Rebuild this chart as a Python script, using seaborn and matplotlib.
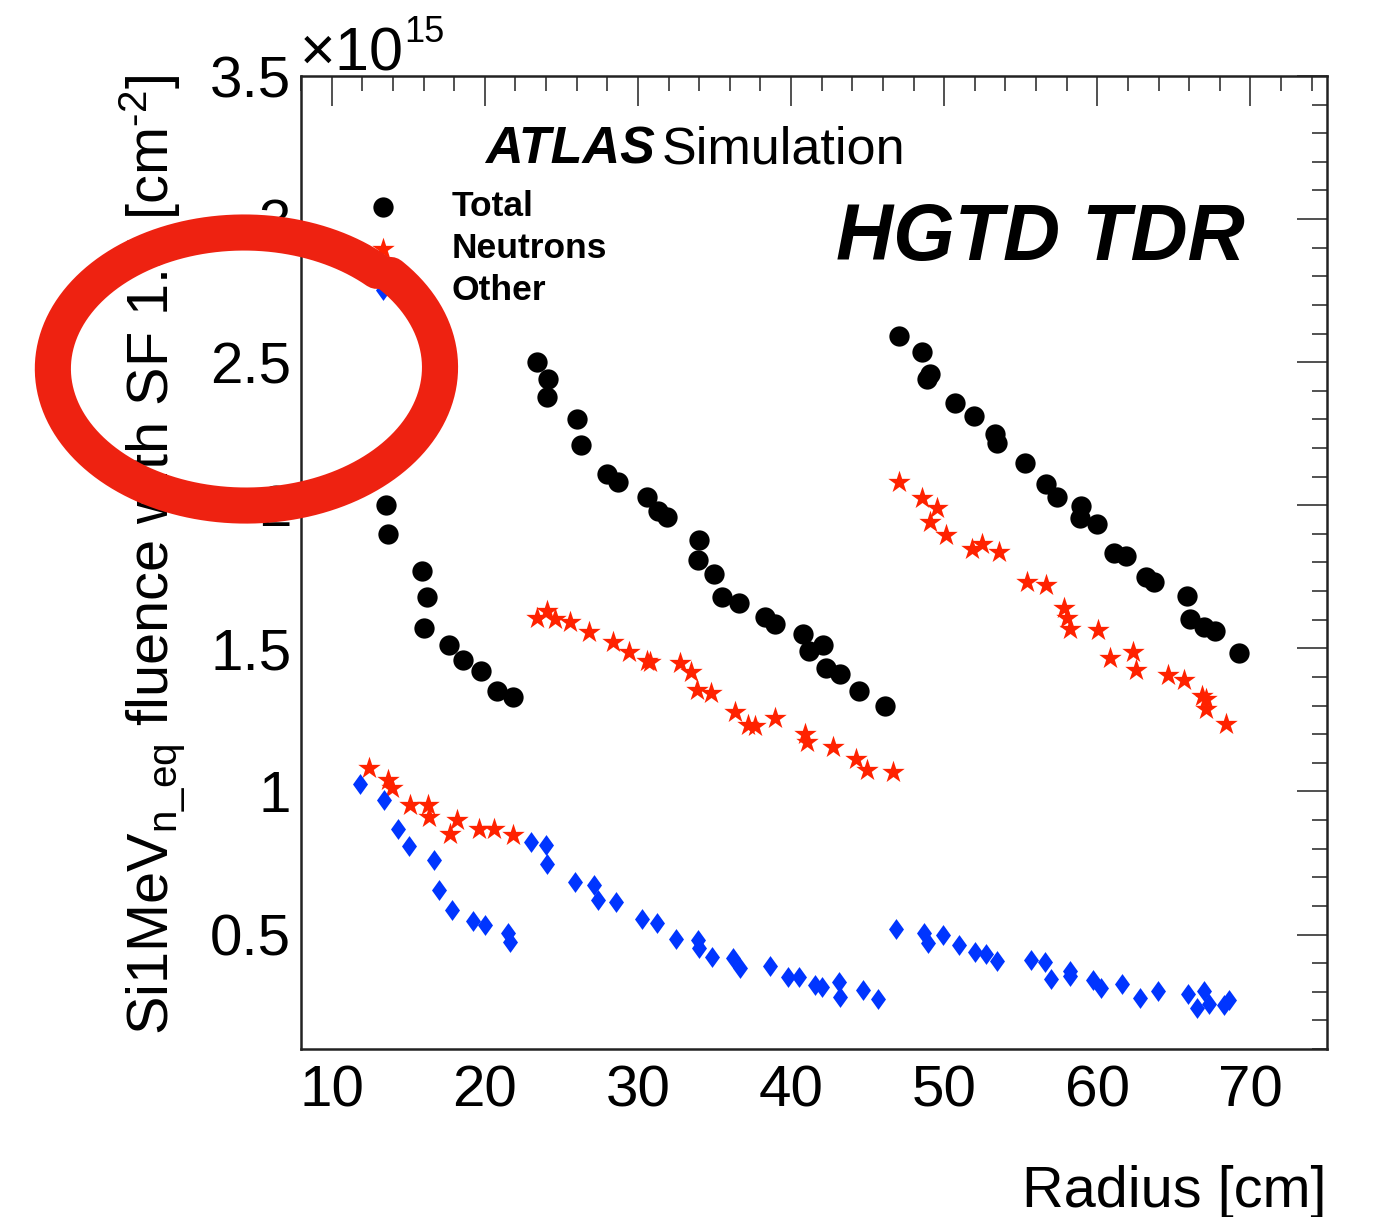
import numpy as np
import pandas as pd
import matplotlib
matplotlib.use("Agg")
import matplotlib.pyplot as plt
import seaborn as sns
from matplotlib.lines import Line2D
from matplotlib.ticker import MultipleLocator, FuncFormatter
from matplotlib.font_manager import FontProperties

# ---- fluence vs radius (units of 1e15 cm^-2) ----
total_radius = [12.1, 13.52, 13.70, 15.93, 16.20, 16.00, 17.65, 18.56, 19.74, 20.78, 21.83,
                23.42, 24.11, 24.07, 26.02, 26.30, 27.98, 28.67, 30.59, 31.30, 31.93, 33.96,
                33.92, 35.00, 35.48, 36.63, 38.31, 38.96, 40.80, 41.19, 42.07, 42.28, 43.20,
                44.45, 46.13,
                47.04, 48.56, 49.07, 48.89, 50.70, 51.96, 53.31, 53.48, 55.26, 56.63, 57.39,
                58.91, 58.85, 60.00, 61.09, 61.85, 63.15, 63.70, 65.87, 66.03, 67.00, 67.70,
                69.28]
total_fluence = [2.12, 2.00, 1.90, 1.77, 1.68, 1.57, 1.51, 1.46, 1.42, 1.35, 1.33,
                 2.50, 2.44, 2.38, 2.30, 2.21, 2.11, 2.08, 2.03, 1.98, 1.96, 1.88,
                 1.81, 1.76, 1.68, 1.66, 1.61, 1.585, 1.55, 1.49, 1.51, 1.43, 1.41,
                 1.35, 1.30,
                 2.59, 2.535, 2.457, 2.44, 2.356, 2.312, 2.25, 2.216, 2.147, 2.076, 2.03,
                 1.998, 1.957, 1.934, 1.833, 1.821, 1.748, 1.733, 1.684, 1.603, 1.576, 1.56,
                 1.483]

neutron_radius = [12.47, 13.67, 13.97, 15.09, 16.29, 16.34, 17.71, 18.21, 19.61, 20.63, 21.86,
                  23.42, 24.07, 24.61, 25.54, 26.78, 28.35, 29.39, 30.59, 30.80, 32.76, 33.46,
                  33.85, 34.76, 36.35, 37.22, 37.65, 38.96, 40.91, 41.02, 42.72, 44.24, 44.94,
                  46.63,
                  47.04, 48.52, 49.54, 49.07, 50.11, 51.85, 52.48, 53.59, 55.41, 56.63, 57.83,
                  58.02, 58.20, 60.04, 60.85, 62.33, 62.55, 64.61, 65.65, 66.85, 67.07, 67.07,
                  68.41]
neutron_fluence = [1.082, 1.039, 1.012, 0.954, 0.951, 0.911, 0.853, 0.899, 0.870, 0.870, 0.849,
                   1.605, 1.632, 1.603, 1.593, 1.556, 1.521, 1.489, 1.457, 1.454, 1.448, 1.417,
                   1.356, 1.344, 1.277, 1.233, 1.228, 1.256, 1.201, 1.172, 1.155, 1.112, 1.074,
                   1.068,
                   2.082, 2.025, 1.989, 1.942, 1.896, 1.847, 1.864, 1.835, 1.733, 1.721, 1.640,
                   1.605, 1.568, 1.565, 1.467, 1.486, 1.426, 1.407, 1.391, 1.333, 1.324, 1.289,
                   1.236]

other_radius = [11.85, 13.39, 14.34, 15.04, 16.67, 16.99, 17.84, 19.21, 20.01, 21.50, 21.68,
                23.03, 24.03, 24.08, 25.90, 27.12, 27.37, 28.57, 30.24, 31.22, 32.49, 33.94,
                33.99, 34.81, 36.18, 36.68, 38.63, 39.80, 40.55, 41.55, 42.05, 43.12, 43.17,
                44.67, 45.71,
                46.85, 48.69, 48.96, 49.93, 50.96, 52.00, 52.76, 53.48, 55.70, 56.57, 56.96,
                58.20, 58.20, 59.72, 60.26, 61.63, 62.76, 63.96, 65.92, 66.52, 66.96, 67.28,
                68.30, 68.63]
other_fluence = [1.027, 0.969, 0.868, 0.810, 0.760, 0.655, 0.585, 0.547, 0.535, 0.507, 0.473,
                 0.824, 0.812, 0.748, 0.684, 0.672, 0.620, 0.612, 0.554, 0.542, 0.483, 0.481,
                 0.454, 0.423, 0.417, 0.382, 0.391, 0.353, 0.351, 0.324, 0.315, 0.335, 0.283,
                 0.306, 0.275,
                 0.519, 0.504, 0.469, 0.500, 0.463, 0.440, 0.431, 0.407, 0.411, 0.405, 0.345,
                 0.373, 0.356, 0.341, 0.312, 0.326, 0.277, 0.301, 0.291, 0.242, 0.301, 0.256,
                 0.254, 0.271]

series_labels = ["Total", "Neutrons", "Other"]
x_ticks = [10, 20, 30, 40, 50, 60, 70]

W, H = 1378, 1217
FONT = "Liberation Sans"

sns.set_theme(style="white")
plt.rcParams["font.family"] = [FONT, "DejaVu Sans"]
plt.rcParams["text.color"] = "black"
plt.rcParams["axes.labelcolor"] = "black"
plt.rcParams["xtick.color"] = "black"
plt.rcParams["ytick.color"] = "black"
plt.rcParams["mathtext.fontset"] = "custom"
plt.rcParams["mathtext.rm"] = FONT
plt.rcParams["mathtext.it"] = FONT + ":italic"
plt.rcParams["mathtext.bf"] = FONT + ":bold"

fig = plt.figure(figsize=(W / 100, H / 100), dpi=100)
fig.patch.set_facecolor("white")


def fx(px):
    return px / W


def fy(py):
    return 1 - py / H


ax = fig.add_axes([fx(301), fy(1049), fx(1327) - fx(301), fy(76) - fy(1049)])
ax.set_facecolor("white")

df_total = pd.DataFrame({"radius": total_radius, "fluence": total_fluence})
df_neut = pd.DataFrame({"radius": neutron_radius, "fluence": neutron_fluence})
df_other = pd.DataFrame({"radius": other_radius, "fluence": other_fluence})

diamond = [(0, 1), (0.72, 0), (0, -1), (-0.72, 0)]

sns.scatterplot(data=df_total, x="radius", y="fluence", ax=ax, marker="o", s=14.6 ** 2,
                color="black", linewidth=0, label=series_labels[0], zorder=3)
sns.scatterplot(data=df_neut, x="radius", y="fluence", ax=ax, marker="*", s=17.0 ** 2,
                color="#ff2200", linewidth=0, label=series_labels[1], zorder=3)
sns.scatterplot(data=df_other, x="radius", y="fluence", ax=ax, marker=diamond, s=15.0 ** 2,
                color="#0035ff", linewidth=0, label=series_labels[2], zorder=3)

ax.set_xlim(8, 75)
ax.set_ylim(0.1, 3.5)
ax.set_xlabel("")
ax.set_ylabel("")
ax.set_xticks(x_ticks)
ax.xaxis.set_minor_locator(MultipleLocator(2))
ax.yaxis.set_major_locator(MultipleLocator(0.5))
ax.yaxis.set_minor_locator(MultipleLocator(0.1))
ax.yaxis.set_major_formatter(FuncFormatter(lambda v, p: f"{v:g}"))
ax.xaxis.set_major_formatter(FuncFormatter(lambda v, p: f"{v:g}"))

ax.tick_params(which="both", direction="in", top=True, right=True, color="#222222",
               width=1.1, labelsize=42, labelcolor="black")
ax.tick_params(which="major", length=21.5)
ax.tick_params(which="minor", length=10.8)
ax.tick_params(axis="x", which="major", pad=11)
ax.tick_params(axis="y", which="major", pad=7)
for sp in ax.spines.values():
    sp.set_visible(True)
    sp.set_color("#222222")
    sp.set_linewidth(1.8)

leg = ax.legend(loc="upper left", bbox_to_anchor=(fx(358), fy(190)),
                bbox_transform=fig.transFigure, frameon=False,
                prop=FontProperties(family=FONT, weight="bold", size=25.5),
                handlelength=1.4, handletextpad=1.24, labelspacing=0.25,
                borderpad=0, borderaxespad=0, scatterpoints=1)
for t in leg.get_texts():
    t.set_color("black")

# axis titles and labels in ROOT style
fig.text(fx(1327), fy(1207), "Radius [cm]", ha="right", va="baseline", fontsize=41.5)
fig.text(fx(153), fy(75), "Si1MeV$_{\\mathrm{n\\_eq}}$ fluence with SF 1.5 [cm$^{\\mathrm{\u20102}}$]",
         rotation=90, ha="center", va="top", fontsize=41.5)
fig.text(fx(299), fy(70), r"$\times$10", ha="left", va="baseline", fontsize=44)
fig.text(fx(404), fy(42), "15", ha="left", va="baseline", fontsize=26)

fig.text(fx(485), fy(163), "ATLAS", ha="left", va="baseline", fontsize=37.5,
         fontweight="bold", fontstyle="italic")
fig.text(fx(662), fy(163), "Simulation", ha="left", va="baseline", fontsize=37.5)
fig.text(fx(836), fy(260), "HGTD TDR", ha="left", va="baseline", fontsize=57,
         fontweight="bold", fontstyle="italic")

# hand-drawn highlight ring around the y-axis scale
theta = np.deg2rad(np.linspace(46, 402, 500))
grow = np.linspace(1.0, 1.03, theta.size)
cx, cy, a, b = 245, 368, 190, 135
ring_x = cx + a * grow * np.cos(theta)
ring_y = cy - b * grow * np.sin(theta)
fig.add_artist(Line2D(fx(ring_x), fy(ring_y), transform=fig.transFigure, color="#ee2211",
                      lw=26, solid_capstyle="round", solid_joinstyle="round", zorder=20))

fig.savefig("out.png", dpi=100, facecolor="white")
